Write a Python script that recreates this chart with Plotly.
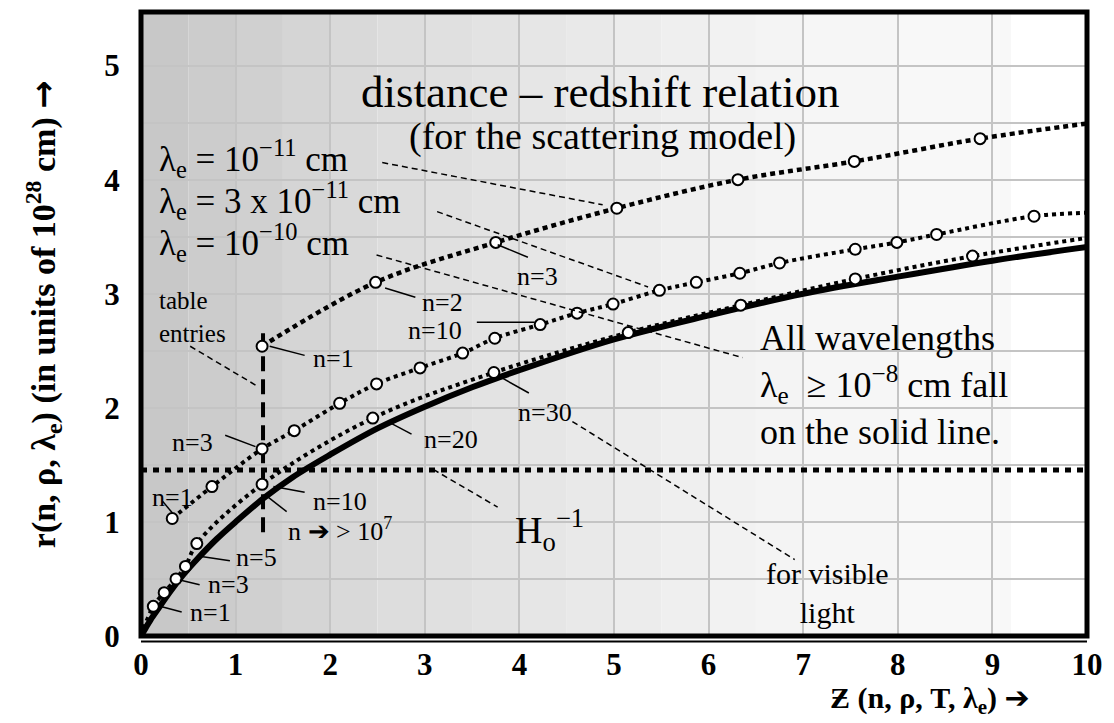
import plotly.graph_objects as go

# ---------------- data ----------------
# solid line: all wavelengths >= 1e-8 cm
solid_z = [0, 0.05, 0.1, 0.2, 0.3, 0.45, 0.6, 0.8, 1.0, 1.3, 1.6, 2.0, 2.5, 3.0, 3.5, 4.0, 5.0, 6.0, 7.0, 8.0, 9.0, 10.0]
solid_r = [0, 0.07, 0.14, 0.26, 0.38, 0.54, 0.68, 0.85, 1.00, 1.21, 1.39, 1.59, 1.82, 2.01, 2.18, 2.33, 2.60, 2.81, 3.00, 3.15, 3.29, 3.41]

# lambda_e = 1e-10 cm (table entries, open circles)
lo_z = [0.13, 0.245, 0.37, 0.47, 0.59, 1.28, 2.45, 3.73, 5.15, 6.34, 7.55, 8.79, 10.08]
lo_r = [0.26, 0.38, 0.50, 0.61, 0.81, 1.33, 1.91, 2.31, 2.66, 2.90, 3.13, 3.33, 3.50]

# lambda_e = 3e-11 cm
mid_z = [0.33, 0.75, 1.28, 1.62, 2.10, 2.49, 2.95, 3.40, 3.74, 4.22, 4.61, 4.99, 5.48, 5.87, 6.33, 6.75, 7.55, 7.99, 8.41, 9.44]
mid_r = [1.03, 1.31, 1.64, 1.80, 2.04, 2.21, 2.35, 2.48, 2.61, 2.73, 2.83, 2.91, 3.03, 3.10, 3.18, 3.27, 3.39, 3.45, 3.52, 3.68]
mid_end_z = 10.0
mid_end_r = 3.71

# lambda_e = 1e-11 cm
top_z = [1.28, 2.48, 3.75, 5.03, 6.31, 7.54, 8.87, 10.07]
top_r = [2.54, 3.10, 3.45, 3.75, 4.00, 4.16, 4.36, 4.50]

# Hubble distance
H0_inv = 1.455

# table-entries marker line
table_z = 1.29
table_r = [0.91, 2.71]

x_ticks = [0, 1, 2, 3, 4, 5, 6, 7, 8, 9, 10]
y_ticks = [0, 1, 2, 3, 4, 5]

# ---------------- style ----------------
SERIF = "Liberation Serif"
BLACK = "#000000"

fig = go.Figure()

# background gradient (style only)
band_edges = [0, 0.5, 1.0, 1.5, 2.0, 2.5, 3.0, 3.5, 4.0, 4.5, 5.0, 5.5, 6.0, 6.5, 7.0, 8.0, 9.2, 10.0]
band_gray = [200, 204, 208, 213, 217, 221, 224, 227, 230, 233, 236, 239, 242, 244, 246, 248, 255]
shapes = []
for i in range(len(band_gray)):
    g = band_gray[i]
    shapes.append(dict(type="rect", xref="x", yref="paper", x0=band_edges[i], x1=band_edges[i + 1],
                       y0=0, y1=1, fillcolor=f"rgb({g},{g},{g})", line=dict(width=0), layer="below"))

# solid curve
fig.add_trace(go.Scatter(x=solid_z, y=solid_r, mode="lines", line=dict(color=BLACK, width=6, shape="spline"),
                         hoverinfo="skip", showlegend=False))

DOT = "4px,4px"
# dotted curves
fig.add_trace(go.Scatter(x=[0] + lo_z, y=[0] + lo_r, mode="lines",
                         line=dict(color=BLACK, width=4, dash=DOT, shape="spline"),
                         showlegend=False, cliponaxis=False))
fig.add_trace(go.Scatter(x=mid_z + [mid_end_z], y=mid_r + [mid_end_r], mode="lines",
                         line=dict(color=BLACK, width=4, dash=DOT, shape="spline"),
                         showlegend=False, cliponaxis=False))
fig.add_trace(go.Scatter(x=top_z, y=top_r, mode="lines",
                         line=dict(color=BLACK, width=4.5, dash="5px,4px", shape="spline"),
                         showlegend=False, cliponaxis=False))

# H0^-1 horizontal line
fig.add_trace(go.Scatter(x=[0, 10], y=[H0_inv, H0_inv], mode="lines",
                         line=dict(color=BLACK, width=5, dash="6px,6px"), showlegend=False))
# vertical dashed line (table entries)
fig.add_trace(go.Scatter(x=[table_z, table_z], y=table_r, mode="lines",
                         line=dict(color=BLACK, width=4, dash="15px,8px"), showlegend=False))

# markers
MK = dict(symbol="circle", size=11, color="white", line=dict(color=BLACK, width=2))
for zs, rs in [(lo_z, lo_r), (mid_z, mid_r), (top_z, top_r)]:
    fig.add_trace(go.Scatter(x=zs, y=rs, mode="markers", marker=MK, showlegend=False, cliponaxis=False))

# ---------------- annotations ----------------
ann = []
def txt(x, y, text, size, xanchor="center", yanchor="middle", align="center", **kw):
    ann.append(dict(x=x, y=y, xref="x", yref="y", text=text, showarrow=False,
                    font=dict(family=SERIF, size=size, color=BLACK),
                    xanchor=xanchor, yanchor=yanchor, align=align, **kw))

def seg(x0, y0, x1, y1, dash=None, width=1.5):
    ln = dict(color=BLACK, width=width)
    if dash:
        ln["dash"] = dash
    shapes.append(dict(type="line", xref="x", yref="y", x0=x0, y0=y0, x1=x1, y1=y1, line=ln, layer="above"))

txt(4.86, 4.77, "distance \u2013 redshift relation", 45)
txt(4.88, 4.38, "(for the scattering model)", 38)
txt(0.17, 4.19, "\u03bb<sub>e</sub> = 10<sup>\u221211</sup> cm", 35, xanchor="left")
txt(0.17, 3.82, "\u03bb<sub>e</sub> = 3 x 10<sup>\u221211</sup> cm", 35, xanchor="left")
txt(0.17, 3.45, "\u03bb<sub>e</sub> = 10<sup>\u221210</sup> cm", 35, xanchor="left")
txt(0.17, 2.80, "table<br>entries", 25, xanchor="left", align="left")
txt(3.93, 0.93, "H<sub>o</sub><sup>\u22121</sup>", 38, xanchor="left")
txt(6.52, 2.20, "All wavelengths<br>\u03bb<sub>e</sub>  \u2265 10<sup>\u22128</sup> cm fall<br>on the solid line.", 36,
    xanchor="left", align="left")
txt(7.25, 0.38, "for visible<br>light", 30)

# n labels
n_labels = [
    (0.73, 0.21, "n=1"), (0.92, 0.45, "n=3"), (1.22, 0.69, "n=5"), (2.10, 1.18, "n=10"),
    (2.10, 0.93, "n \u2794 > 10<sup>7</sup>"), (3.28, 1.72, "n=20"), (4.27, 1.96, "n=30"),
    (0.33, 1.21, "n=1"), (0.54, 1.70, "n=3"), (3.11, 2.68, "n=10"),
    (2.03, 2.43, "n=1"), (3.19, 2.92, "n=2"), (4.19, 3.15, "n=3"),
]
for x, y, t in n_labels:
    txt(x, y, t, 26)

# solid leaders
for s in [(0.20, 0.26, 0.43, 0.21), (0.41, 0.49, 0.62, 0.45), (0.62, 0.70, 0.94, 0.66),
          (1.40, 1.31, 1.73, 1.26), (1.34, 1.22, 1.54, 1.09), (2.63, 1.87, 2.86, 1.77),
          (3.82, 2.26, 4.10, 2.13), (0.23, 1.18, 0.33, 1.08), (0.89, 1.76, 1.21, 1.66),
          (3.55, 2.75, 4.16, 2.75), (1.36, 2.54, 1.73, 2.46), (2.58, 3.05, 2.90, 2.97),
          (3.77, 3.43, 4.09, 3.32)]:
    seg(*s)

# dashed leaders
for s in [(2.55, 4.15, 4.88, 3.78), (3.13, 3.72, 5.36, 3.06), (2.49, 3.34, 6.36, 2.44),
          (0.52, 2.54, 1.21, 2.20), (3.09, 1.46, 3.77, 1.13), (4.56, 1.88, 6.91, 0.67)]:
    seg(*s, dash="6px,4px")

# plot frame (double line at the bottom)
shapes.append(dict(type="rect", xref="paper", yref="paper", x0=0, y0=0, x1=1, y1=1,
                   line=dict(color=BLACK, width=5), layer="above"))
shapes.append(dict(type="line", xref="paper", yref="paper", x0=0, y0=-0.009, x1=1, y1=-0.009,
                   line=dict(color=BLACK, width=2), layer="above"))

ARROW = "<span style='font-family:DejaVu Sans'>\u2192</span>"
# axis titles as text
ann.append(dict(x=-0.103, y=0.515, xref="paper", yref="paper", textangle=-90, showarrow=False,
                text="r(n, \u03c1, \u03bb<sub>e</sub>) (in units of 10<sup>28</sup> cm) " + ARROW,
                font=dict(family=SERIF, size=34, color=BLACK, weight="bold"),
                xanchor="center", yanchor="middle"))
ann.append(dict(x=0.834, y=-0.102, xref="paper", yref="paper", showarrow=False,
                text="\u01b5 (n, \u03c1, T, \u03bb<sub>e</sub>) <span style='font-family:DejaVu Sans'>\u2794</span>",
                font=dict(family=SERIF, size=30, color=BLACK, weight="bold"),
                xanchor="center", yanchor="middle"))

fig.update_layout(
    width=1114, height=723,
    margin=dict(l=141, r=27, t=12, b=87),
    paper_bgcolor="white", plot_bgcolor="white",
    shapes=shapes, annotations=ann,
    xaxis=dict(range=[0, 10], tickvals=x_ticks, ticktext=[str(v) for v in x_ticks],
               showgrid=True, gridcolor="#c4c4c4", gridwidth=1.5, zeroline=False,
               ticks="outside", ticklen=1, tickcolor="rgba(0,0,0,0)",
               tickfont=dict(family=SERIF, size=31, color=BLACK, weight="bold"), showline=False),
    yaxis=dict(range=[0, 5.47], tickvals=y_ticks, ticktext=[str(v) for v in y_ticks],
               showgrid=True, gridcolor="#c4c4c4", gridwidth=1.5, zeroline=False,
               minor=dict(dtick=0.5, showgrid=True, gridcolor="#c4c4c4", gridwidth=1.5),
               ticks="outside", ticklen=14, tickcolor="rgba(0,0,0,0)",
               tickfont=dict(family=SERIF, size=31, color=BLACK, weight="bold"), showline=False),
)

fig.write_html("out.html")
